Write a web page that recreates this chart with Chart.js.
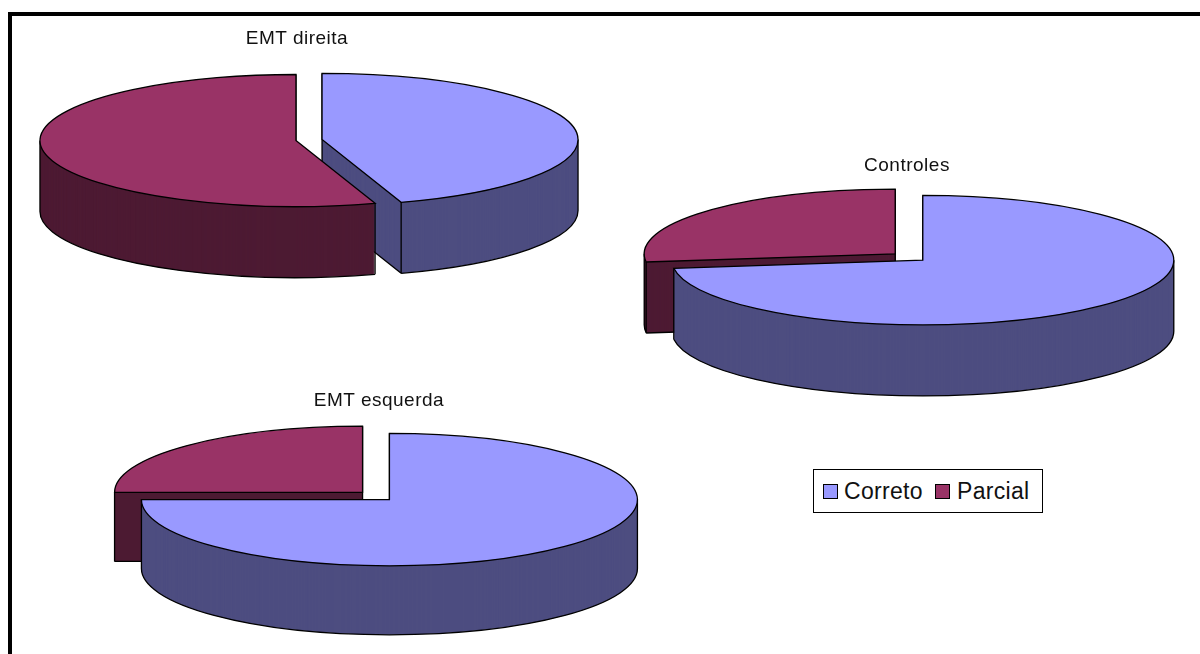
<!DOCTYPE html>
<html>
<head>
<meta charset="utf-8">
<title>EMT</title>
<script src="https://cdn.jsdelivr.net/npm/chart.js@4"></script>
<style>
html, body { margin: 0; padding: 0; background: #fff; width: 1200px; height: 654px; overflow: hidden; }
body { position: relative; font-family: "Liberation Sans", Arial, sans-serif; color: #111; }
canvas { position: absolute; }
#frame { position: absolute; left: 8px; top: 12px; width: 1200px; height: 700px; border-left: 4px solid #000; border-top: 4px solid #000; }
.pieTitle { position: absolute; font-size: 19px; letter-spacing: 0.5px; white-space: nowrap; transform: translate(-50%, -50%); }
#legend { position: absolute; left: 813px; top: 469px; width: 228px; height: 42px; border: 1.5px solid #000; font-size: 23px; letter-spacing: 0.3px; }
#legend span { position: absolute; top: 8px; line-height: 26px; }
#legend i { position: absolute; top: 14px; width: 13px; height: 13px; border: 1px solid #000; }
</style>
</head>
<body>
<div id="frame"></div>
<div id="legend"></div>

<script>
// Valores
var pieNames = ['EMT direita', 'Controles', 'EMT esquerda'];
var seriesNames = ['Correto', 'Parcial'];
var corretoValues = [45, 73, 75];
var parcialValues = [55, 27, 25];

var topColors = ['#9999FF', '#993366'];
var wallColors = ['#4D4D80', '#4D1A33'];

// Posicao de cada pizza na pagina
var centerX = [309, 909, 376];
var centerY = [140, 256.5, 496];
var radius = [256, 251, 248];
var tilt = [0.258, 0.258, 0.267];
var depth = [71, 71, 69];
var explode = [13.2, 18.4, 19];
var titleX = [297, 907, 379];
var titleY = [38, 165, 400];
var canvasPad = 30;

function midAngle(arc) {
    return (arc.startAngle + arc.endAngle) / 2;
}

function tiltY(cy, squash, y) {
    return cy + (y - cy) * squash;
}

// Pizza 3D: paredes empilhadas abaixo dos arcos, tudo achatado em y
var pie3d = {
    id: 'pie3d',
    afterDatasetsUpdate: function (chart) {
        var opts = chart.options.plugins.pie3d;
        chart.getDatasetMeta(0).data.forEach(function (arc) {
            var mid = midAngle(arc);
            arc.x += Math.cos(mid) * opts.explode;
            arc.y += Math.sin(mid) * opts.explode;
        });
    },
    beforeDatasetsDraw: function (chart) {
        var opts = chart.options.plugins.pie3d;
        var ctx = chart.ctx;
        var area = chart.chartArea;
        var cy = (area.top + area.bottom) / 2;
        var arcs = chart.getDatasetMeta(0).data.map(function (arc, i) {
            return { arc: arc, i: i };
        });
        // a fatia mais a frente e desenhada por ultimo
        arcs.sort(function (a, b) {
            return Math.sin(midAngle(a.arc)) - Math.sin(midAngle(b.arc));
        });

        arcs.forEach(function (item) {
            var arc = item.arc;
            var ghost = Object.create(arc);
            ghost.options = Object.assign({}, arc.options, { backgroundColor: wallColors[item.i] });
            for (var d = opts.depth; d >= 1; d--) {
                ctx.save();
                ctx.translate(0, cy + d);
                ctx.scale(1, opts.squash);
                ctx.translate(0, -cy);
                ghost.draw(ctx);
                ctx.restore();
            }
            strokeWall(ctx, arc, cy, opts);
        });

        ctx.save();
        ctx.translate(0, cy);
        ctx.scale(1, opts.squash);
        ctx.translate(0, -cy);
    },
    afterDatasetsDraw: function (chart) {
        var opts = chart.options.plugins.pie3d;
        var ctx = chart.ctx;
        var area = chart.chartArea;
        var cy = (area.top + area.bottom) / 2;
        ctx.restore();

        chart.getDatasetMeta(0).data.forEach(function (arc) {
            var ay = tiltY(cy, opts.squash, arc.y);
            ctx.beginPath();
            ctx.moveTo(arc.x, ay);
            ctx.ellipse(arc.x, ay, arc.outerRadius, arc.outerRadius * opts.squash, 0, arc.startAngle, arc.endAngle);
            ctx.closePath();
            ctx.lineWidth = 1.3;
            ctx.strokeStyle = '#000';
            ctx.stroke();
        });
    }
};

function strokeWall(ctx, arc, cy, opts) {
    var ay = tiltY(cy, opts.squash, arc.y);
    var rx = arc.outerRadius;
    var ry = rx * opts.squash;
    var s = arc.startAngle;
    var e = arc.endAngle;
    var startSeen = Math.cos(s) < -0.001;
    var endSeen = Math.cos(e) > 0.001;

    function rimX(a) { return arc.x + Math.cos(a) * rx; }
    function rimY(a) { return ay + Math.sin(a) * ry; }
    function vertical(a) {
        ctx.moveTo(rimX(a), rimY(a));
        ctx.lineTo(rimX(a), rimY(a) + opts.depth);
    }

    ctx.save();
    ctx.lineWidth = 1.3;
    ctx.strokeStyle = '#000';
    ctx.beginPath();
    // so a parte da frente da borda de baixo aparece
    var from = Math.max(s, 0);
    var to = Math.min(e, Math.PI);
    if (to > from) {
        ctx.moveTo(rimX(from), rimY(from) + opts.depth);
        ctx.ellipse(arc.x, ay + opts.depth, rx, ry, 0, from, to);
    }
    if (endSeen) {
        ctx.moveTo(rimX(e), rimY(e) + opts.depth);
        ctx.lineTo(arc.x, ay + opts.depth);
    }
    if (startSeen) {
        ctx.moveTo(rimX(s), rimY(s) + opts.depth);
        ctx.lineTo(arc.x, ay + opts.depth);
    }
    if (startSeen || endSeen) {
        ctx.moveTo(arc.x, ay);
        ctx.lineTo(arc.x, ay + opts.depth);
    }
    vertical(s);
    vertical(e);
    if (s <= 0 && e >= 0) vertical(0);
    if (s <= Math.PI && e >= Math.PI) vertical(Math.PI);
    ctx.stroke();
    ctx.restore();
}

pieNames.forEach(function (name, n) {
    var canvas = document.createElement('canvas');
    canvas.width = (radius[n] + canvasPad) * 2;
    canvas.height = (radius[n] + canvasPad) * 2;
    canvas.style.left = (centerX[n] - radius[n] - canvasPad) + 'px';
    canvas.style.top = (centerY[n] - radius[n] - canvasPad) + 'px';
    document.body.appendChild(canvas);

    new Chart(canvas.getContext('2d'), {
        type: 'pie',
        data: {
            labels: seriesNames,
            datasets: [{
                label: name,
                data: [corretoValues[n], parcialValues[n]],
                backgroundColor: topColors,
                borderWidth: 0,
                clip: false
            }]
        },
        options: {
            responsive: false,
            animation: false,
            layout: { padding: canvasPad },
            plugins: {
                legend: { display: false },
                tooltip: { enabled: false },
                pie3d: { squash: tilt[n], depth: depth[n], explode: explode[n] }
            }
        },
        plugins: [pie3d]
    });

    var title = document.createElement('div');
    title.className = 'pieTitle';
    title.textContent = name;
    title.style.left = titleX[n] + 'px';
    title.style.top = titleY[n] + 'px';
    document.body.appendChild(title);
});

// Legenda
var legend = document.getElementById('legend');
var legendSwatchX = [9, 121];
var legendTextX = [30, 143];
seriesNames.forEach(function (name, i) {
    var box = document.createElement('i');
    box.style.left = legendSwatchX[i] + 'px';
    box.style.background = topColors[i];
    legend.appendChild(box);
    var text = document.createElement('span');
    text.style.left = legendTextX[i] + 'px';
    text.textContent = name;
    legend.appendChild(text);
});
</script>
</body>
</html>
